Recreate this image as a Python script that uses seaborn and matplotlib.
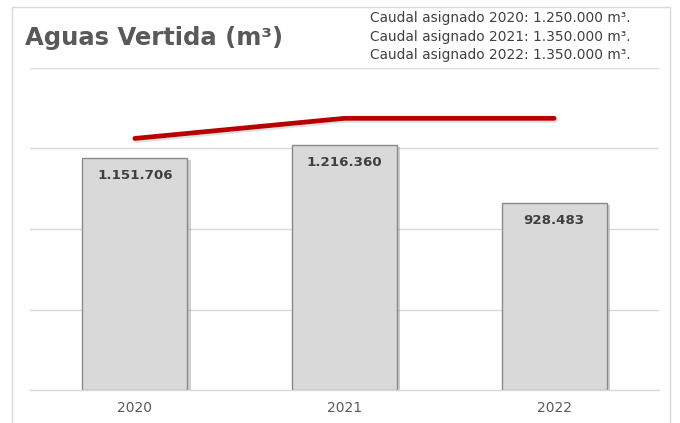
import numpy as np
import pandas as pd
import seaborn as sns
import matplotlib
matplotlib.use("Agg")
import matplotlib.pyplot as plt
import matplotlib.patheffects as pe
from matplotlib.patches import Rectangle

years = ["2020", "2021", "2022"]
vertida = [1151706, 1216360, 928483]
caudal = [1250000, 1350000, 1350000]
labels = ["1.151.706", "1.216.360", "928.483"]
notes = ["Caudal asignado 2020: 1.250.000 m³.",
         "Caudal asignado 2021: 1.350.000 m³.",
         "Caudal asignado 2022: 1.350.000 m³."]
title = "Aguas Vertida (m³)"

sns.set_theme(style="white")
plt.rcParams['font.family'] = ['DejaVu Sans']

fig = plt.figure(figsize=(6.8, 4.23), dpi=100)
fig.patch.set_facecolor("white")
ax = fig.add_axes([30/680, 33/423, 629/680, 322/423])

df = pd.DataFrame({"year": years, "value": vertida})
sns.barplot(data=df, x="year", y="value", ax=ax, color="#d9d9d9",
            width=0.5, edgecolor="#8a8a8a", linewidth=1.0, saturation=1)
for p in ax.patches:
    p.set_path_effects([pe.SimplePatchShadow(offset=(2.5, -1.5), shadow_rgbFace="#a0a0a0", alpha=0.5),
                        pe.Normal()])

sns.lineplot(x=np.arange(len(years)), y=caudal, ax=ax, color="#b80000",
             linewidth=3.4, solid_capstyle="round",
             path_effects=[pe.SimpleLineShadow(offset=(1, -1.5), shadow_color="#999999", alpha=0.3),
                           pe.Normal()])

ax.set_ylim(0, 1600000)
ax.set_xlim(-0.5, 2.5)
ax.set_yticks([400000, 800000, 1200000, 1600000])
ax.yaxis.grid(True, color="#d9d9d9", linewidth=1.0)
ax.set_axisbelow(True)
ax.set_yticklabels([])
ax.tick_params(axis="y", length=0)
ax.tick_params(axis="x", length=0, pad=8, labelsize=10, labelcolor="#595959")
ax.set_xlabel("")
ax.set_ylabel("")
for s in ["top", "left", "right"]:
    ax.spines[s].set_visible(False)
ax.spines["bottom"].set_color("#d9d9d9")
ax.spines["bottom"].set_linewidth(1.0)

for i, (v, lab) in enumerate(zip(vertida, labels)):
    ax.annotate(lab, xy=(i, v), xytext=(0, -17), textcoords="offset pixels",
                ha="center", va="center", fontsize=9.6, fontweight="bold", color="#404040")

fig.text(25/680, 1 - 38/423, title, ha="left", va="center",
         fontsize=17.5, fontweight="bold", color="#595959")
for k, n in enumerate(notes):
    fig.text(370/680, 1 - (18 + 18.5*k)/423, n, ha="left", va="center",
             fontsize=9.9, color="#404040")

fig.patches.append(Rectangle((12/680, -0.01), 658/680, 1.0 - 7/423 + 0.01,
                             transform=fig.transFigure, fill=False,
                             edgecolor="#d9d9d9", linewidth=1.0))

fig.savefig("out.png", dpi=100)
